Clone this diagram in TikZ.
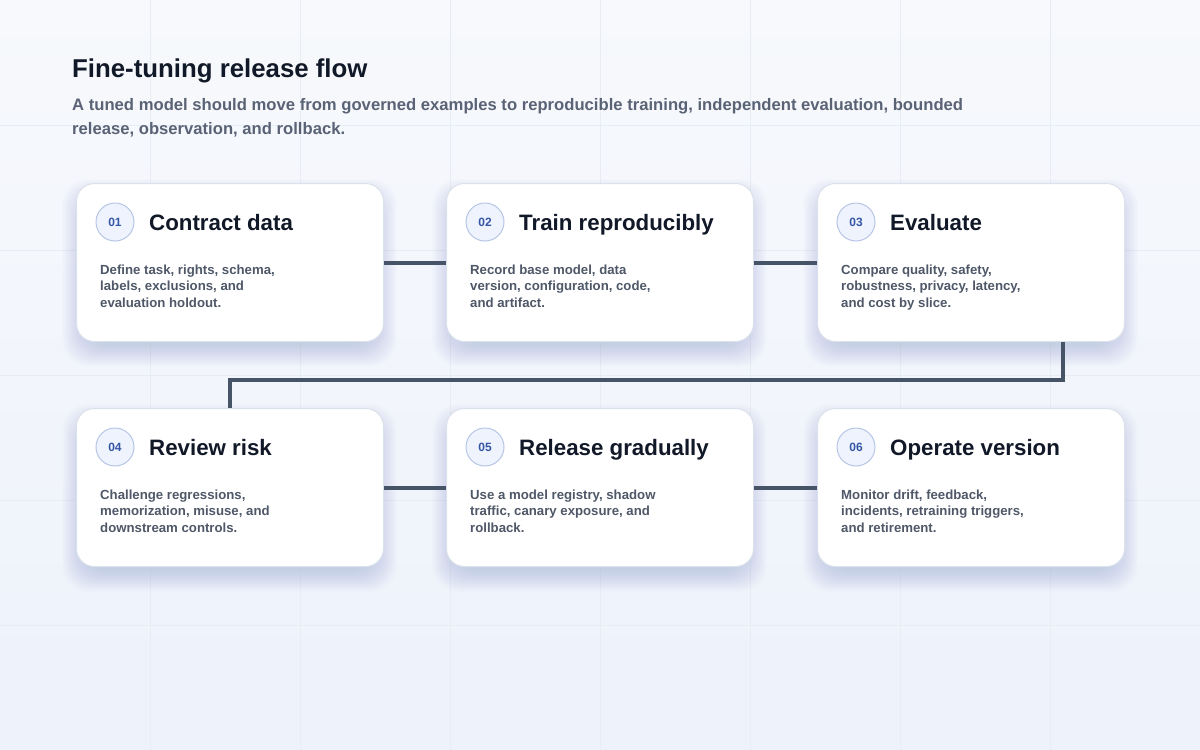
\documentclass[tikz,border=0pt]{standalone}
\usepackage{fontspec}
\setmainfont{Liberation Sans}

\definecolor{bgtop}{HTML}{F7F9FC}
\definecolor{bgbot}{HTML}{EDF2FB}
\definecolor{gridline}{HTML}{E8EDF4}
\definecolor{cardline}{HTML}{DCE2EB}
\definecolor{shadowink}{HTML}{7483A8}
\definecolor{headink}{HTML}{111827}
\definecolor{bodyink}{HTML}{4F5868}
\definecolor{subink}{HTML}{5A6375}
\definecolor{linkink}{HTML}{475467}
\definecolor{numfill}{HTML}{EEF3FD}
\definecolor{numline}{HTML}{B7C6E6}
\definecolor{numink}{HTML}{3656A6}

\tikzset{
  card/.style={draw=cardline, line width=1pt, fill=white, rounded corners=18pt,
    minimum width=307pt, minimum height=158pt, inner sep=0pt},
  cardshade/.style={fill=shadowink, opacity=0.011, rounded corners=26pt},
  stepnum/.style={circle, draw=numline, line width=1pt, fill=numfill,
    minimum size=38pt, inner sep=0pt, text=numink,
    font=\bfseries\fontsize{12}{14}\selectfont},
  steptitle/.style={inner sep=0pt, text=headink,
    font=\bfseries\fontsize{22.3}{26}\selectfont},
  stepbody/.style={inner sep=0pt, align=left, text=bodyink,
    font=\bfseries\fontsize{13.2}{16.5}\selectfont},
  link/.style={draw=linkink, line width=4pt}
}

\begin{document}
\begin{tikzpicture}[x=1pt, y=-1pt]
  \useasboundingbox (0,0) rectangle (1200,750);
  \shade[top color=bgtop, bottom color=bgbot] (0,0) rectangle (1200,750);

  % faint grid
  \foreach \gx in {150,300,...,1050}
    \draw[gridline, line width=1pt] (\gx,0) -- (\gx,750);
  \foreach \gy in {125,250,...,625}
    \draw[gridline, line width=1pt] (0,\gy) -- (1200,\gy);

  % header
  \node[inner sep=0pt, anchor=base west, text=headink,
    font=\bfseries\fontsize{25.8}{30}\selectfont] (head) at (72,77)
    {Fine-tuning release flow};
  \node[inner sep=0pt, anchor=north west, align=left, text=subink,
    font=\bfseries\fontsize{16.65}{24}\selectfont] (sub) at (72,98)
    {A tuned model should move from governed examples to reproducible training, independent evaluation, bounded\\
     release, observation, and rollback.};

  % cards
  \foreach \id/\cx/\cy/\ttl/\txt in {
    01/76/183/{Contract data}/{Define task, rights, schema,\\labels, exclusions, and\\evaluation holdout.},
    02/446/183/{Train reproducibly}/{Record base model, data\\version, configuration, code,\\and artifact.},
    03/817/183/{Evaluate}/{Compare quality, safety,\\robustness, privacy, latency,\\and cost by slice.},
    04/76/408/{Review risk}/{Challenge regressions,\\memorization, misuse, and\\downstream controls.},
    05/446/408/{Release gradually}/{Use a model registry, shadow\\traffic, canary exposure, and\\rollback.},
    06/817/408/{Operate version}/{Monitor drift, feedback,\\incidents, retraining triggers,\\and retirement.}}
  {
    % soft shadow under the card
    \foreach \s in {1,...,24}
      \fill[cardshade] (\cx+10-\s,\cy+20-\s) rectangle (\cx+297+\s,\cy+160+\s);
    \node[card, anchor=north west] (card\id) at (\cx,\cy) {};
    \node[stepnum] (num\id) at (\cx+39,\cy+39) {\id};
    \node[steptitle, anchor=base west] (ttl\id) at (\cx+73,\cy+47) {\ttl};
    \node[stepbody, anchor=north west] (txt\id) at (\cx+24,\cy+81.5) {\txt};
  }

  % connectors
  \draw[link] (card01.east) -- (card02.west);
  \draw[link] (card02.east) -- (card03.west);
  \draw[link] ([xshift=-62pt]card03.south east) -- ++(0,38) -| (card04.north);
  \draw[link] (card04.east) -- (card05.west);
  \draw[link] (card05.east) -- (card06.west);
\end{tikzpicture}
\end{document}
